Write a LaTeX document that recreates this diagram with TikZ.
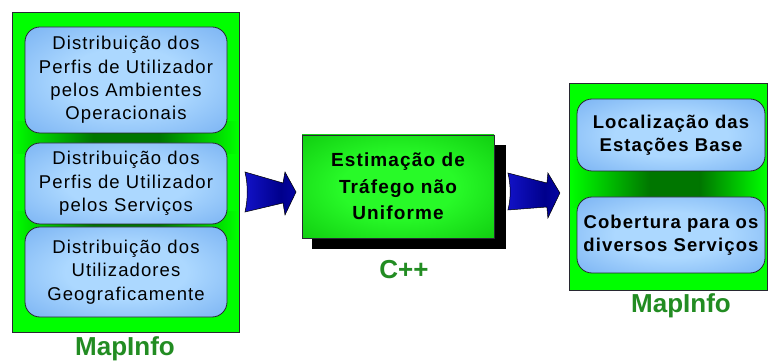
\documentclass[tikz,border=0pt]{standalone}
\usepackage{fontspec}
\usetikzlibrary{calc}
\setmainfont{Liberation Sans}
\definecolor{brgreen}{RGB}{0,255,0}
\definecolor{dkglow}{RGB}{0,118,0}
\definecolor{lblue}{RGB}{172,216,255}
\definecolor{mblue}{RGB}{90,155,235}
\definecolor{labgreen}{RGB}{34,140,34}
\definecolor{mgin}{RGB}{40,250,40}
\definecolor{mgout}{RGB}{0,175,0}
\definecolor{abr}{RGB}{30,30,240}
\definecolor{adk}{RGB}{0,0,140}
\definecolor{amd}{RGB}{10,10,200}
\definecolor{edge}{RGB}{40,40,50}
\pgfdeclareradialshading{blueshade}{\pgfpoint{0bp}{0bp}}{color(0bp)=(lblue); color(15bp)=(lblue); color(50bp)=(mblue); color(71bp)=(mblue)}
\pgfdeclareradialshading{midshade}{\pgfpoint{0bp}{0bp}}{color(0bp)=(mgin); color(15bp)=(mgin); color(50bp)=(mgout); color(71bp)=(mgout)}
\pgfdeclarehorizontalshading{arrowshade}{100bp}{color(0bp)=(abr); color(60bp)=(adk); color(100bp)=(amd)}
\newfontfamily\leftfnt[LetterSpace=6]{Liberation Sans}
\newfontfamily\boldfnt[LetterSpace=6,BoldFont={Liberation Sans Bold}]{Liberation Sans Bold}
\tikzset{
  container/.style={draw=edge, line width=0.8pt, fill=brgreen, inner sep=0pt},
  bluebox/.style={draw=edge, line width=0.8pt, rounded corners=15pt, shade, shading=blueshade, align=center, inner sep=0pt},
  midbox/.style={draw=edge, line width=0.8pt, shade, shading=midshade, align=center, inner sep=0pt},
  shadowbox/.style={fill=black, inner sep=0pt},
  blockarrow/.style={draw=black, line width=0.5pt, shade, shading=arrowshade},
  glowin/.style={left color=brgreen, right color=dkglow},
  glowout/.style={left color=dkglow, right color=brgreen},
  glowmid/.style={fill=dkglow},
  lbl/.style={text=labgreen, font=\fontsize{26}{30}\selectfont\bfseries, inner sep=0pt},
  lefttxt/.style={font=\fontsize{18.5}{23.3}\selectfont\leftfnt},
  righttxt/.style={font=\fontsize{18.5}{23.3}\selectfont\boldfnt},
  midtxt/.style={font=\fontsize{19}{26.7}\selectfont\boldfnt}
}
\begin{document}
\begin{tikzpicture}[x=1pt,y=-1pt]
\useasboundingbox (0,0) rectangle (768,363);
\fill[white] (0,0) rectangle (768,363);
% left container
\node[container, minimum width=227pt, minimum height=320pt] (L) at (125.5,172) {};
\shade[glowin] (13,122) rectangle (93.2,154);
\fill[glowmid] (93,122) rectangle (159,154);
\shade[glowout] (158.8,122) rectangle (238,154);
\shade[glowin] (13,212) rectangle (93.2,240);
\fill[glowmid] (93,212) rectangle (159,240);
\shade[glowout] (158.8,212) rectangle (238,240);
\node[bluebox, lefttxt, minimum width=202pt, minimum height=106pt] (b1) at (126,80) {Distribuição dos\\Perfis de Utilizador\\pelos Ambientes\\Operacionais};
\node[bluebox, lefttxt, minimum width=202pt, minimum height=81pt] (b2) at (126,183.5) {Distribuição dos\\Perfis de Utilizador\\pelos Serviços};
\node[bluebox, lefttxt, minimum width=202pt, minimum height=90pt] (b3) at (126,272) {Distribuição dos\\Utilizadores\\Geograficamente};
\node[lbl] (lmap) at (125,349) {MapInfo};
% middle
\node[shadowbox, minimum width=194pt, minimum height=104pt] (S) at (409,197) {};
\node[midbox, midtxt, minimum width=192pt, minimum height=103pt] (M) at (398,186.5) {Estimação de\\Tráfego não\\Uniforme};
\node[lbl] (cpp) at (404,270) {C++};
% right container
\node[container, minimum width=198pt, minimum height=207pt] (R) at (668,186.5) {};
\shade[glowin] (570,160) rectangle (650.2,208);
\fill[glowmid] (650,160) rectangle (700,208);
\shade[glowout] (699.8,160) rectangle (766,208);
\node[bluebox, righttxt, minimum width=188pt, minimum height=72pt] (r1) at (671,135) {Localização das\\Estações Base};
\node[bluebox, righttxt, minimum width=188pt, minimum height=76pt] (r2) at (671,235) {Cobertura para os\\diversos Serviços};
\node[lbl] (rmap) at (681,306) {MapInfo};
% arrows
\coordinate (a1) at ($(L.east)!0.5!(M.west)+(0,12.75)$);
\coordinate (a2) at ($(S.east)!0.5!(R.west)+(-3.5,1.25)$);
\draw[blockarrow, shift={(a1)}] (-25.5,-20) -- (12.5,-9) -- (14.5,-20) -- (25.5,0) -- (14.5,23) -- (12.5,11) -- (-25.5,20) .. controls (-22.5,7) and (-22.5,-7) .. cycle;
\draw[blockarrow, shift={(a2)}] (-26,-20) -- (13,-10) -- (14,-20) -- (26,0) -- (14,25) -- (13,14) -- (-26,17) .. controls (-23,6) and (-23,-8) .. cycle;
\end{tikzpicture}
\end{document}
